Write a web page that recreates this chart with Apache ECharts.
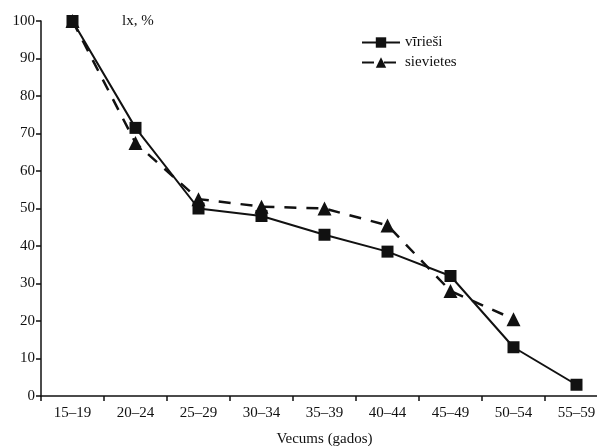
<!DOCTYPE html>
<html>
<head>
<meta charset="utf-8">
<script src="https://cdn.jsdelivr.net/npm/echarts@6/dist/echarts.min.js"></script>
<style>
  html, body { margin: 0; padding: 0; background: #fff; }
  #chart { width: 597px; height: 446px; }
</style>
</head>
<body>
<div id="chart"></div>
<script>
// vecuma grupas
var ageGroups = ['15–19', '20–24', '25–29', '30–34', '35–39', '40–44', '45–49', '50–54', '55–59'];
// lx, % vīriešiem un sievietēm
var menValues = [100, 71.5, 50, 48, 43, 38.5, 32, 13, 3];
var womenValues = [100, 67.5, 52.5, 50.5, 50, 45.5, 28, 20.5, null];
var yTicks = [0, 10, 20, 30, 40, 50, 60, 70, 80, 90, 100];

var font = '"Liberation Serif", "DejaVu Serif", serif';
var ink = '#111';

var chart = echarts.init(document.getElementById('chart'));

var option = {
    backgroundColor: '#fff',
    animation: false,
    textStyle: { fontFamily: font, color: ink },
    grid: { left: 41, width: 567, top: 21, bottom: 50, outerBoundsMode: 'none' },
    title: {
        text: 'lx, %',
        left: 117, top: 9,
        textStyle: { fontFamily: font, fontSize: 15, fontWeight: 'normal', color: ink }
    },
    legend: {
        orient: 'vertical',
        left: 356, top: 30,
        itemWidth: 38, itemHeight: 13, itemGap: 5,
        textStyle: { fontFamily: font, fontSize: 15, color: ink },
        data: ['vīrieši', 'sievietes']
    },
    xAxis: {
        type: 'category',
        data: ageGroups,
        boundaryGap: true,
        name: 'Vecums (gados)',
        nameLocation: 'middle',
        nameGap: 36,
        nameTextStyle: { fontFamily: font, fontSize: 15, color: ink },
        axisLine: { lineStyle: { color: ink, width: 1.5 } },
        axisTick: { show: true, length: 5, lineStyle: { color: ink, width: 1.5 } },
        axisLabel: { fontFamily: font, fontSize: 15, color: ink, margin: 10 },
        splitLine: { show: false }
    },
    yAxis: {
        type: 'value',
        min: yTicks[0], max: yTicks[yTicks.length - 1], interval: 10,
        axisLine: { show: true, lineStyle: { color: ink, width: 1.5 } },
        axisTick: { show: true, length: 5, lineStyle: { color: ink, width: 1.5 } },
        axisLabel: { fontFamily: font, fontSize: 15, color: ink, margin: 6 },
        splitLine: { show: false }
    },
    series: [
        {
            name: 'vīrieši',
            type: 'line',
            data: menValues,
            symbol: 'rect',
            symbolSize: 12,
            itemStyle: { color: ink },
            lineStyle: { color: ink, width: 2 },
            z: 3
        },
        {
            name: 'sievietes',
            type: 'line',
            data: womenValues,
            symbol: 'triangle',
            symbolSize: 14,
            itemStyle: { color: ink },
            lineStyle: { color: ink, width: 2.5, type: [12, 10] },
            z: 2
        }
    ]
};

chart.setOption(option);
</script>
</body>
</html>
